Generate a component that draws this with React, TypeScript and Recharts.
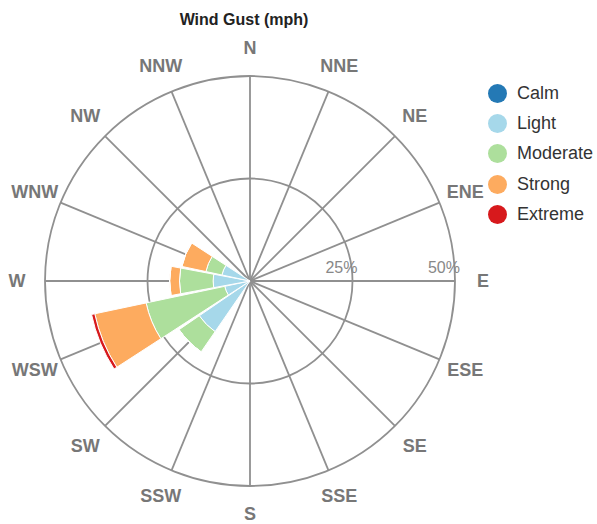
import React from "react";
import {
  RadialBarChart,
  RadialBar,
  PolarAngleAxis,
  PolarRadiusAxis,
  PolarGrid,
  Legend,
} from "recharts";

// compass directions, clockwise from north
const directions = [
  "N", "NNE", "NE", "ENE", "E", "ESE", "SE", "SSE",
  "S", "SSW", "SW", "WSW", "W", "WNW", "NW", "NNW",
];

// percent of observations per direction
const calm = [0, 0, 0, 0, 0, 0, 0, 0, 0, 0, 0, 0, 0, 0, 0, 0];
const light = [0, 0, 0, 0, 0, 0, 0, 0, 0, 0, 15, 6.3, 9, 7, 0, 0];
const moderate = [0, 0, 0, 0, 0, 0, 0, 0, 0, 0, 6, 19.6, 8.2, 4, 0, 0];
const strong = [0, 0, 0, 0, 0, 0, 0, 0, 0, 0, 0, 12.8, 2.4, 6, 0, 0];
const extreme = [0, 0, 0, 0, 0, 0, 0, 0, 0, 0, 0, 0.8, 0, 0, 0, 0];

const radiusTicks = [25, 50];

const series = [
  { key: "calm", name: "Calm", color: "#2479b5", values: calm },
  { key: "light", name: "Light", color: "#a6d8ea", values: light },
  { key: "moderate", name: "Moderate", color: "#addf9c", values: moderate },
  { key: "strong", name: "Strong", color: "#fdab5f", values: strong },
  { key: "extreme", name: "Extreme", color: "#d7191c", values: extreme },
];

const data = directions.map((dir, i) => {
  const row: Record<string, string | number> = { dir };
  series.forEach((s) => {
    row[s.key] = s.values[i];
  });
  return row;
});

const FONT = "'Liberation Sans', Arial, sans-serif";
const CX = 250;
const CY = 281;
const STEP = 360 / directions.length;

// spokes through the middle of each direction's sector
const spokeAngles = directions.map((_, i) => 90 - i * STEP);

// recharts puts category ticks on the sector edge, move them to the middle
const renderAngleTick = (props: any) => {
  const { x, y, payload } = props;
  const dx = x - CX;
  const dy = CY - y;
  const r = Math.sqrt(dx * dx + dy * dy);
  const a = Math.atan2(dy, dx) + (STEP / 2) * (Math.PI / 180);
  const tx = CX + r * Math.cos(a);
  const ty = CY - r * Math.sin(a);
  return (
    <text
      x={tx}
      y={ty}
      textAnchor="middle"
      dominantBaseline="central"
      fontSize={18}
      fontWeight="bold"
      fill="#777"
      fontFamily={FONT}
    >
      {payload.value}
    </text>
  );
};

const renderRadiusTick = (props: any) => {
  const { x, y, payload } = props;
  return (
    <text
      x={x + 5}
      y={y - 8}
      textAnchor="end"
      fontSize={16}
      fill="#888"
      fontFamily={FONT}
    >
      {`${payload.value}%`}
    </text>
  );
};

const renderLegend = () => (
  <div style={{ fontFamily: FONT }}>
    {series.map((s) => (
      <div
        key={s.key}
        style={{ display: "flex", alignItems: "center", height: 30.3 }}
      >
        <svg width={19} height={19} style={{ marginRight: 10 }}>
          <circle cx={9.5} cy={9.5} r={9.5} fill={s.color} />
        </svg>
        <span style={{ fontSize: 18, color: "#333" }}>{s.name}</span>
      </div>
    ))}
  </div>
);

export default function App() {
  return (
    <div
      style={{
        position: "absolute",
        left: 0,
        top: 0,
        width: 597,
        height: 524,
        background: "#fff",
        fontFamily: FONT,
      }}
    >
      <div
        style={{
          position: "absolute",
          left: 0,
          width: 488,
          top: 11,
          textAlign: "center",
          fontSize: 16,
          fontWeight: "bold",
          color: "#222",
        }}
      >
        Wind Gust (mph)
      </div>
      <RadialBarChart
        width={597}
        height={524}
        data={data}
        layout="centric"
        cx={CX}
        cy={CY}
        innerRadius={0}
        outerRadius={205}
        startAngle={90 - STEP / 2}
        endAngle={90 - STEP / 2 - 360}
        barCategoryGap="3%"
      >
        <PolarGrid
          gridType="circle"
          polarAngles={spokeAngles}
          stroke="#909090"
          strokeWidth={1.8}
        />
        <PolarAngleAxis
          dataKey="dir"
          type="category"
          tick={renderAngleTick}
          tickLine={false}
          axisLine={false}
          tickSize={28}
        />
        <PolarRadiusAxis
          type="number"
          angle={0}
          domain={[0, 50]}
          ticks={radiusTicks}
          axisLine={false}
          tickLine={false}
          tick={renderRadiusTick}
        />
        {series.map((s) => (
          <RadialBar
            key={s.key}
            dataKey={s.key}
            name={s.name}
            stackId="wind"
            fill={s.color}
            stroke="#fff"
            strokeWidth={1}
            isAnimationActive={false}
          />
        ))}
        <Legend
          content={renderLegend}
          layout="vertical"
          verticalAlign="top"
          align="right"
          wrapperStyle={{ top: 78, left: 488, width: 110 }}
        />
      </RadialBarChart>
    </div>
  );
}
